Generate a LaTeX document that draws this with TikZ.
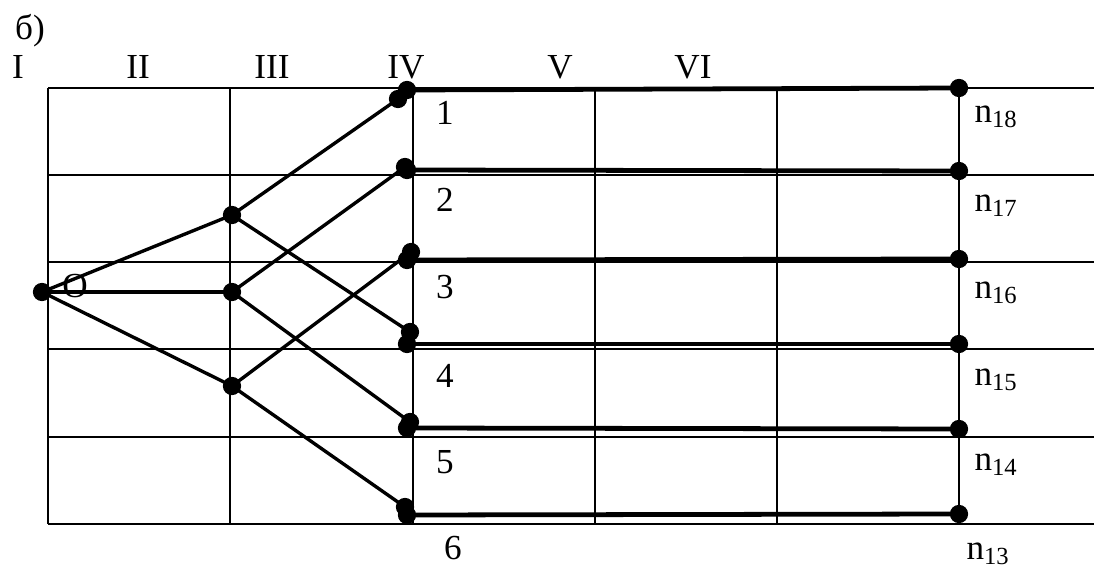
\documentclass[tikz,border=0pt]{standalone}
\usepackage{fontspec}
\setmainfont{Liberation Serif}
\usetikzlibrary{positioning}

\begin{document}
\begin{tikzpicture}[x=0.025cm, y=-0.025cm,
    punkt/.style={circle, fill, inner sep=0pt, minimum size=13pt},
    netz/.style={line width=1.8pt},
    zweig/.style={line width=2.4pt},
    bahn/.style={line width=3.4pt},
    schrift/.style={font=\fontsize{25}{29}\selectfont, inner sep=0pt},
  ]
  \useasboundingbox (0,0) rectangle (1094,571);

  % grid
  \foreach \y in {88,175,262,349,437,524}
    \draw[netz] (48,\y) -- (1094,\y);
  \foreach \x in {48,230,413,595,777,959}
    \draw[netz] (\x,88) -- (\x,524);

  % heading and stage numbers
  \node[schrift] (titel) at (30,31) {б)};
  \foreach \r/\x in {I/18,II/138,III/272,IV/406,V/560,VI/693}
    \node[schrift] (st\r) at (\x,67) {\r};

  % start point and first branching
  \node[punkt] (o) at (42,292) {};
  \node[schrift] (olab) at (75,286) {O};
  \node[punkt] (a) at (232,215) {};
  \node[punkt] (b) at (232,292) {};
  \node[punkt] (c) at (232,386) {};

  % ends of the branches
  \node[punkt] (e1) at (398,99) {};
  \node[punkt] (e2) at (405,167) {};
  \node[punkt] (e3) at (411,252) {};
  \node[punkt] (e4) at (410,332) {};
  \node[punkt] (e5) at (410,422) {};
  \node[punkt] (e6) at (405,507) {};

  \draw[zweig] (o.center) -- (a.center);
  \draw[zweig] (o.center) -- (b.center);
  \draw[zweig] (o.center) -- (c.center);
  \draw[zweig] (a.center) -- (e1.center);
  \draw[zweig] (a.center) -- (e4.center);
  \draw[zweig] (b.center) -- (e2.center);
  \draw[zweig] (b.center) -- (e5.center);
  \draw[zweig] (c.center) -- (e3.center);
  \draw[zweig] (c.center) -- (e6.center);

  % straight runs to the last stage
  \foreach \i/\y/\t in {1/90/88,2/170/171,3/260/259,4/344/344,5/428/429,6/515/514} {
    \node[punkt] (s\i) at (407,\y) {};
    \node[punkt] (t\i) at (959,\t) {};
    \draw[bahn] (s\i.center) -- (t\i.center);
  }

  % row labels
  \foreach \k/\y in {1/113,2/200,3/287,4/376,5/462}
    \node[schrift] (z\k) at (445,\y) {\k};
  \node[schrift] (z6) at (453,548) {6};

  \foreach \k/\y in {18/117,17/206,16/293,15/380,14/465}
    \node[schrift] (n\k) at (996,\y) {n\textsubscript{\k}};
  \node[schrift] (n13) at (988,554) {n\textsubscript{13}};
\end{tikzpicture}
\end{document}
